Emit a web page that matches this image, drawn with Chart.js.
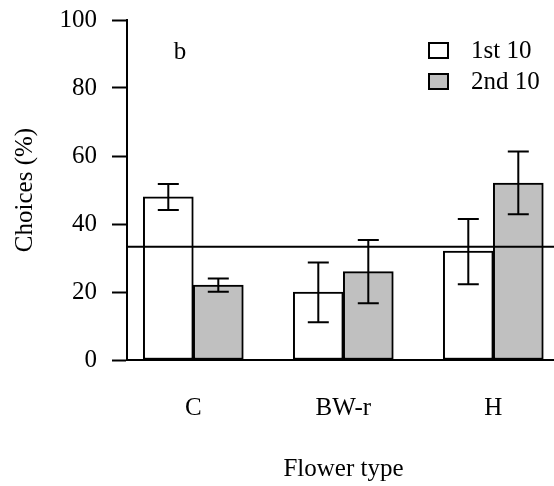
<!DOCTYPE html>
<html>
<head>
<meta charset="utf-8">
<script src="https://cdn.jsdelivr.net/npm/chart.js@4.4.1/dist/chart.umd.min.js"></script>
<style>
  html, body { margin: 0; padding: 0; overflow: hidden; background: #fff; }
  #wrap { width: 554px; height: 486px; overflow: hidden; }
</style>
</head>
<body>
<div id="wrap"><canvas id="chart" width="560" height="486"></canvas></div>
<script>
    "use strict";

    // flower types along the x axis
    let categories = ["C", "BW-r", "H"];
    let seriesNames = ["1st 10", "2nd 10"];

    // mean choices (%)
    let firstTen = [48, 20, 32];
    let secondTen = [22, 26, 52];

    // error bar limits (%)
    let firstLow = [44.1, 11.1, 22.3];
    let firstHigh = [51.8, 28.7, 41.5];
    let secondLow = [20.1, 16.7, 42.9];
    let secondHigh = [24.0, 35.3, 61.3];

    let chanceLevel = 33.3;
    let yTicks = [0, 20, 40, 60, 80, 100];
    let panelLabel = "b";

    let fontFamily = "'Liberation Serif', 'Times New Roman', serif";

    function toPoints(values) {
        return values.map(function (v, i) {
            return { x: i + 1, y: v };
        });
    }

    let errorLimits = [
        { low: firstLow, high: firstHigh },
        { low: secondLow, high: secondHigh }
    ];

    let extras = {
        id: "extras",
        afterDatasetsDraw: function (chart) {
            let ctx = chart.ctx;
            let area = chart.chartArea;
            let y = chart.scales.y;

            // chance level line
            ctx.save();
            ctx.strokeStyle = "#000";
            ctx.lineWidth = 2;
            ctx.beginPath();
            ctx.moveTo(area.left, y.getPixelForValue(chanceLevel));
            ctx.lineTo(area.right, y.getPixelForValue(chanceLevel));
            ctx.stroke();

            // error bars
            errorLimits.forEach(function (lim, d) {
                let meta = chart.getDatasetMeta(d);
                meta.data.forEach(function (bar, i) {
                    let top = y.getPixelForValue(lim.high[i]);
                    let bottom = y.getPixelForValue(lim.low[i]);
                    let cap = 10.5;
                    ctx.beginPath();
                    ctx.moveTo(bar.x, top);
                    ctx.lineTo(bar.x, bottom);
                    ctx.moveTo(bar.x - cap, top);
                    ctx.lineTo(bar.x + cap, top);
                    ctx.moveTo(bar.x - cap, bottom);
                    ctx.lineTo(bar.x + cap, bottom);
                    ctx.stroke();
                });
            });

            // legend
            let fills = ["#ffffff", "#c0c0c0"];
            ctx.font = "25px " + fontFamily;
            ctx.textBaseline = "middle";
            ctx.textAlign = "left";
            seriesNames.forEach(function (name, i) {
                let by = 43 + i * 31;
                ctx.fillStyle = fills[i];
                ctx.fillRect(429, by, 19, 15);
                ctx.strokeRect(429, by, 19, 15);
                ctx.fillStyle = "#000";
                ctx.fillText(name, 471, by + 8);
            });

            // panel letter
            ctx.textAlign = "center";
            ctx.fillText(panelLabel, 180, 52);
            ctx.restore();
        }
    };

    new Chart(document.getElementById("chart").getContext("2d"), {
        type: "bar",
        data: {
            datasets: [{
                label: seriesNames[0],
                data: toPoints(firstTen),
                backgroundColor: "#ffffff",
                borderColor: "#000000",
                borderWidth: 2,
                borderSkipped: false
            }, {
                label: seriesNames[1],
                data: toPoints(secondTen),
                backgroundColor: "#c0c0c0",
                borderColor: "#000000",
                borderWidth: 2,
                borderSkipped: false
            }]
        },
        options: {
            responsive: false,
            animation: false,
            barThickness: 50,
            layout: { padding: { top: 20, left: 0, right: 0, bottom: 0 } },
            plugins: {
                legend: { display: false },
                tooltip: { enabled: false }
            },
            scales: {
                x: {
                    type: "linear",
                    offset: false,
                    min: 0.558,
                    max: 3.4447,
                    afterBuildTicks: function (scale) {
                        scale.ticks = categories.map(function (c, i) {
                            return { value: i + 1 };
                        });
                    },
                    afterFit: function (scale) {
                        scale.height = 126;
                    },
                    grid: { display: false, drawTicks: false, offset: false },
                    border: { display: true, color: "#000", width: 2 },
                    ticks: {
                        autoSkip: false,
                        maxRotation: 0,
                        padding: 33,
                        color: "#000",
                        font: { family: fontFamily, size: 25 },
                        callback: function (v) {
                            return categories[v - 1];
                        }
                    },
                    title: {
                        display: true,
                        text: "Flower type",
                        color: "#000",
                        font: { family: fontFamily, size: 25 },
                        padding: { top: 0, bottom: 2 }
                    }
                },
                y: {
                    min: 0,
                    max: 100,
                    afterBuildTicks: function (scale) {
                        scale.ticks = yTicks.map(function (v) {
                            return { value: v };
                        });
                    },
                    afterFit: function (scale) {
                        scale.width = 127;
                        scale.paddingTop = 0;
                        scale.paddingBottom = 0;
                    },
                    grid: {
                        drawOnChartArea: false,
                        drawTicks: true,
                        tickLength: 15,
                        tickWidth: 2,
                        tickColor: "#000"
                    },
                    border: { display: true, color: "#000", width: 2 },
                    ticks: {
                        padding: 15,
                        color: "#000",
                        font: { family: fontFamily, size: 25 }
                    },
                    title: {
                        display: true,
                        text: "Choices (%)",
                        color: "#000",
                        font: { family: fontFamily, size: 25 },
                        padding: { top: 10, bottom: 0 }
                    }
                }
            }
        },
        plugins: [extras]
    });
</script>
</body>
</html>
